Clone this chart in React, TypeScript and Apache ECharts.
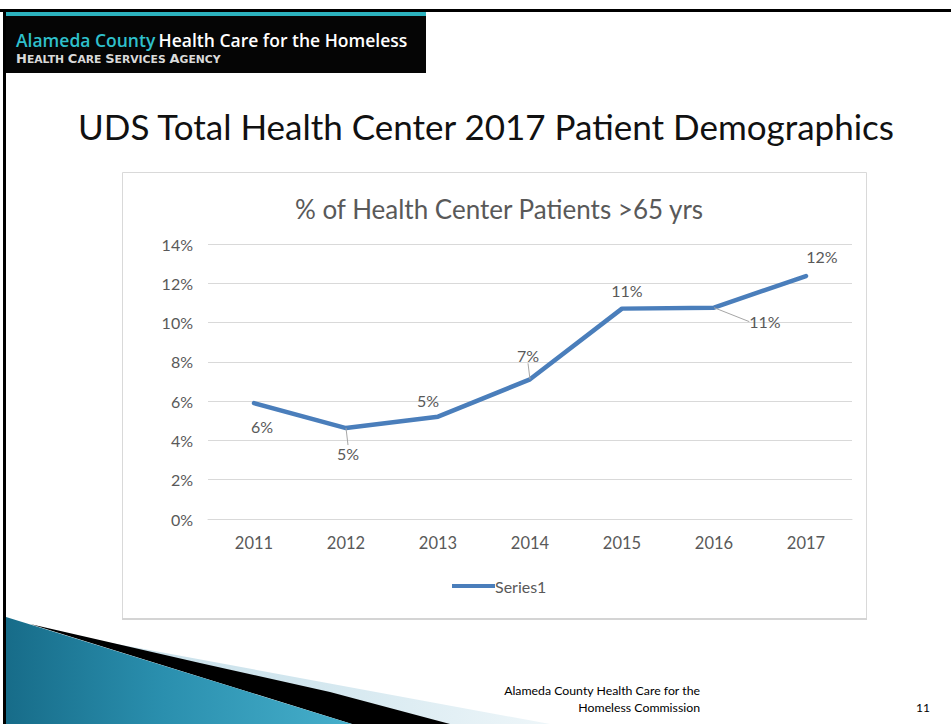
import React, { useEffect, useRef } from "react";
import * as echarts from "echarts";

// ---- data ----
const years: string[] = ["2011", "2012", "2013", "2014", "2015", "2016", "2017"];
const pctOver65: number[] = [5.9, 4.63, 5.21, 7.11, 10.71, 10.76, 12.37];
const seriesName = "Series1";
const yAxisMin = 0;
const yAxisMax = 14;
const yAxisStep = 2;

const slideTitle = "UDS Total Health Center 2017 Patient Demographics";
const chartTitle = "% of Health Center Patients >65 yrs";
const footerLines: string[] = ["Alameda County Health Care for the", "Homeless Commission"];
const pageNumber = "11";

// ---- label layout (offsets from each point, px) ----
const LABEL_SHIFT: [number, number][] = [
  [8, 23], [2, 25], [-10, -16], [-2, -24], [5, -18], [51, 14], [16, -20],
];
const LABEL_LEADER: boolean[] = [false, true, false, true, false, true, false];

const FONT = "Lato, 'Open Sans', sans-serif";
const GREY = "#595959";

export default function App() {
  const ref = useRef<HTMLDivElement>(null);

  useEffect(() => {
    if (!ref.current) return;
    const chart = echarts.init(ref.current, undefined, { renderer: "svg" });

    const data = pctOver65.map((v, i) => ({
      value: v,
      labelLine: { show: LABEL_LEADER[i] },
    }));

    const capStyle = {
      fill: "#d9d9d9",
      fontSize: 13,
      fontFamily: "'DejaVu Sans', sans-serif",
      fontWeight: 700,
      verticalAlign: "bottom",
      lineHeight: 14,
    };
    const smallStyle = { ...capStyle, fontSize: 10.8 };

    const option: any = {
      animation: false,
      backgroundColor: "#ffffff",
      textStyle: { fontFamily: FONT },
      title: [
        {
          text: slideTitle,
          left: 481,
          top: 103,
          textAlign: "center",
          textStyle: { fontFamily: FONT, fontSize: 35, fontWeight: "normal", color: "#111111" },
        },
        {
          text: chartTitle,
          left: 494,
          top: 191,
          textAlign: "center",
          textStyle: { fontFamily: FONT, fontSize: 26, fontWeight: "normal", color: GREY },
        },
      ],
      grid: { left: 208, right: 99, top: 244, bottom: 205, containLabel: false },
      xAxis: {
        type: "category",
        data: years,
        boundaryGap: true,
        axisLine: { show: true, lineStyle: { color: "#d9d9d9", width: 1 } },
        axisTick: { show: false },
        axisLabel: { color: GREY, fontSize: 16.5, margin: 15, fontFamily: FONT },
      },
      yAxis: {
        type: "value",
        min: yAxisMin,
        max: yAxisMax,
        interval: yAxisStep,
        axisLine: { show: false },
        axisTick: { show: false },
        splitLine: { lineStyle: { color: "#d9d9d9", width: 1 } },
        axisLabel: { color: GREY, fontSize: 16, margin: 15, fontFamily: FONT, formatter: (v: number) => `${v}%` },
      },
      legend: {
        left: 447,
        top: 573,
        data: [{ name: seriesName, icon: "rect" }],
        itemWidth: 43,
        itemHeight: 4,
        itemGap: 10,
        textStyle: { color: GREY, fontSize: 16, fontFamily: FONT, padding: [0, 0, 0, -5] },
      },
      series: [
        {
          type: "line",
          name: seriesName,
          data,
          symbol: "circle",
          symbolSize: 0.1,
          showSymbol: true,
          color: "#4a7ebb",
          lineStyle: { color: "#4a7ebb", width: 4.5, cap: "round", join: "round" },
          itemStyle: { color: "#4a7ebb" },
          label: {
            show: true,
            position: "inside",
            color: GREY,
            fontSize: 16,
            fontFamily: FONT,
            formatter: (p: any) => `${Math.round(p.value)}%`,
          },
          labelLine: { show: true, lineStyle: { color: "#a6a6a6", width: 1 }, length2: 0 },
          labelLayout: (p: any) => ({
            dx: LABEL_SHIFT[p.dataIndex][0],
            dy: LABEL_SHIFT[p.dataIndex][1],
          }),
        },
      ],
      graphic: [
        // chart frame
        {
          type: "rect",
          silent: true,
          z: -10,
          shape: { x: 122.5, y: 172.5, width: 744, height: 446 },
          style: { fill: "#ffffff", stroke: "#d9d9d9", lineWidth: 1 },
        },
        {
          type: "line",
          silent: true,
          z: -9,
          shape: { x1: 122, y1: 619, x2: 867, y2: 619 },
          style: { stroke: "#d4d4d4", lineWidth: 2 },
        },
        // slide borders
        {
          type: "line",
          silent: true,
          shape: { x1: 0, y1: 10.5, x2: 951, y2: 10.5 },
          style: { stroke: "#000000", lineWidth: 3 },
        },
        {
          type: "line",
          silent: true,
          shape: { x1: 4.5, y1: 10, x2: 4.5, y2: 724 },
          style: { stroke: "#000000", lineWidth: 3 },
        },
        // header box
        {
          type: "rect",
          silent: true,
          shape: { x: 6, y: 12, width: 420, height: 61 },
          style: { fill: "#050505" },
        },
        {
          type: "rect",
          silent: true,
          shape: { x: 6, y: 12, width: 420, height: 4 },
          style: { fill: "#2cb2be" },
        },
        {
          type: "text",
          silent: true,
          x: 16,
          y: 40,
          style: {
            text: "{a|Alameda County} {b|Health Care for the Homeless}",
            verticalAlign: "middle",
            rich: {
              a: { fill: "#2fc0cc", fontSize: 17.5, fontFamily: "'Open Sans', sans-serif", fontWeight: 600 },
              b: { fill: "#ffffff", fontSize: 17.5, fontFamily: "'Open Sans', sans-serif", fontWeight: 600 },
            },
          },
        },
        {
          type: "text",
          silent: true,
          x: 16,
          y: 58,
          style: {
            text:
              "{c|H}{s|EALTH }{c|C}{s|ARE }{c|S}{s|ERVICES }{c|A}{s|GENCY}",
            verticalAlign: "middle",
            rich: { c: capStyle, s: smallStyle },
          },
        },
        // bottom-left decoration
        {
          type: "polygon",
          silent: true,
          z: -5,
          shape: { points: [[95, 640], [300, 678], [550, 724], [420, 724], [80, 637]] },
          style: {
            fill: new echarts.graphic.LinearGradient(0, 0, 1, 0, [
              { offset: 0, color: "#c7dfe9" },
              { offset: 0.5, color: "#d3e7ef" },
              { offset: 1, color: "#eef6f9" },
            ]),
          },
        },
        {
          type: "polygon",
          silent: true,
          z: -4,
          shape: { points: [[30, 624], [200, 663], [330, 692], [450, 724], [352, 724]] },
          style: { fill: "#000000" },
        },
        {
          type: "polygon",
          silent: true,
          z: -3,
          shape: { points: [[6, 617], [352, 724], [6, 724]] },
          style: {
            fill: new echarts.graphic.LinearGradient(0, 0, 1, 0, [
              { offset: 0, color: "#176c89" },
              { offset: 0.45, color: "#2a8fae" },
              { offset: 1, color: "#46afcb" },
            ]),
          },
        },
        // footer
        {
          type: "text",
          silent: true,
          x: 700,
          y: 690,
          style: {
            text: footerLines[0],
            align: "right",
            verticalAlign: "middle",
            fill: "#000000",
            fontSize: 12.3,
            fontFamily: FONT,
          },
        },
        {
          type: "text",
          silent: true,
          x: 700,
          y: 707,
          style: {
            text: footerLines[1],
            align: "right",
            verticalAlign: "middle",
            fill: "#000000",
            fontSize: 12.3,
            fontFamily: FONT,
          },
        },
        {
          type: "text",
          silent: true,
          x: 930,
          y: 707,
          style: {
            text: pageNumber,
            align: "right",
            verticalAlign: "middle",
            fill: "#000000",
            fontSize: 12,
            fontFamily: FONT,
          },
        },
      ],
    };

    chart.setOption(option);
    return () => chart.dispose();
  }, []);

  return (
    <div
      ref={ref}
      style={{ position: "absolute", left: 0, top: 0, width: 951, height: 724, background: "#fff" }}
    />
  );
}
